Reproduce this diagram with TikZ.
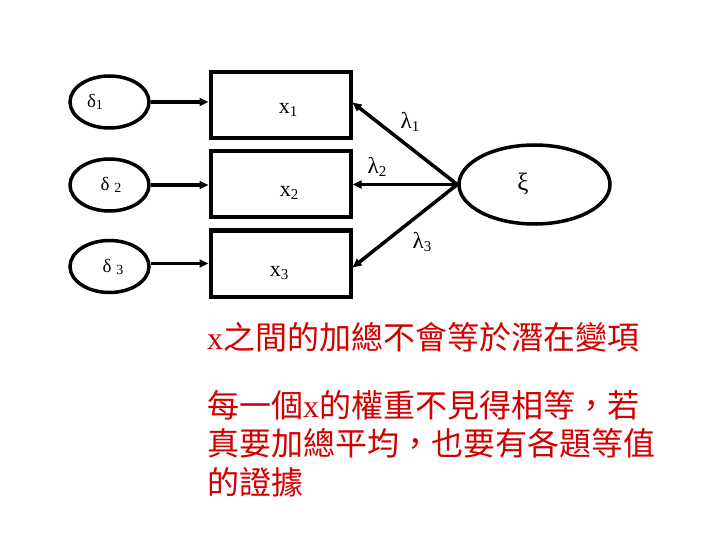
\documentclass[tikz,border=0pt]{standalone}
\usepackage{fontspec}
\setmainfont{Liberation Serif}
\newfontfamily\cjk{Noto Sans CJK TC}
\usetikzlibrary{arrows.meta,shapes.geometric}
\newcommand{\lsub}[2]{\raisebox{-0.3ex}{\fontsize{#1}{#1}\selectfont #2}}
\definecolor{txtred}{RGB}{210,0,0}
\begin{document}
\begin{tikzpicture}[x=1pt,y=-1pt,
  obsbox/.style={draw, line width=4pt, minimum width=140pt, minimum height=66pt, inner sep=0pt},
  errell/.style={draw, ellipse, line width=3.5pt, minimum width=79pt, minimum height=52pt, inner sep=0pt},
  latell/.style={draw, ellipse, line width=3.5pt, minimum width=151pt, minimum height=79pt, inner sep=0pt},
  pathar/.style={-{Triangle[length=9pt,width=8pt]}, line width=3.5pt},
  lbl/.style={inner sep=0pt, font=\fontsize{22}{22}\selectfont},
  glbl/.style={inner sep=0pt, font=\fontsize{19}{19}\selectfont},
  lamlbl/.style={inner sep=0pt, font=\fontsize{23}{23}\selectfont},
  note/.style={text=txtred, inner sep=0pt, anchor=base west, font=\fontsize{32}{38}\selectfont}]
\useasboundingbox (0,0) rectangle (720,540);
% error ellipses
\node[errell] (d1) at (109.5,102) {};
\node[errell] (d2) at (109.5,185) {};
\node[errell] (d3) at (109.5,266.5) {};
\node[glbl] (td1) at (95,102) {δ\lsub{14}{1}};
\node[glbl] (td2) at (111,185) {δ \lsub{14}{2}};
\node[glbl] (td3) at (113,267) {δ \lsub{14}{3}};
% observed boxes
\node[obsbox] (x1) at (280.5,105.5) {};
\node[obsbox] (x2) at (280.5,184) {};
\node[obsbox] (x3) at (280.5,263.5) {};
\node[lbl] (tx1) at (288,110) {x\lsub{15}{1}};
\node[lbl] (tx2) at (289,193) {x\lsub{15}{2}};
\node[lbl] (tx3) at (279,273) {x\lsub{15}{3}};
% latent
\node[latell] (xi) at (534.5,184.5) {};
\node[inner sep=0pt, font=\fontsize{25}{25}\selectfont] (txi) at (523,184) {ξ};
% arrows delta -> x
\draw[pathar] (d1.east) -- (d1.east -| x1.west);
\draw[pathar] (d2.east) -- (d2.east -| x2.west);
\draw[pathar] ([yshift=3pt]d3.east) -- ([yshift=3pt]d3.east -| x3.west);
% arrows xi -> x
\draw[pathar] (xi.west) -- ([yshift=3pt]x1.east);
\draw[pathar] (xi.west) -- (xi.west -| x2.east);
\draw[pathar] (xi.west) -- ([yshift=-4pt]x3.east);
\node[lamlbl] (l1) at (410,122) {λ\lsub{15}{1}};
\node[lamlbl] (l2) at (377,167) {λ\lsub{15}{2}};
\node[lamlbl] (l3) at (422,242) {λ\lsub{15}{3}};
% notes
\node[note] (n1) at (207,349) {x{\cjk 之間的加總不會等於潛在變項}};
\node[note] (n2) at (207,417) {{\cjk 每一個}x{\cjk 的權重不見得相等，若}};
\node[note] (n3) at (207,455) {{\cjk 真要加總平均，也要有各題等值}};
\node[note] (n4) at (207,494) {{\cjk 的證據}};
\end{tikzpicture}
\end{document}
